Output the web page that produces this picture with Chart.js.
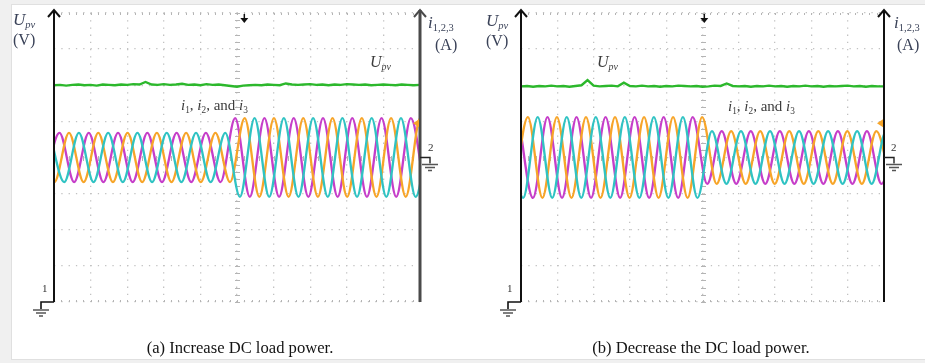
<!DOCTYPE html>
<html>
<head>
<meta charset="utf-8">
<script src="https://cdn.jsdelivr.net/npm/chart.js@4.4.1/dist/chart.umd.min.js"></script>
<style>
html,body{margin:0;padding:0;}
body{width:925px;height:363px;background:#f0f0f0;position:relative;overflow:hidden;font-family:"Liberation Serif","Times New Roman",serif;}
#frame{position:absolute;left:11px;top:4px;width:914px;height:356px;background:#fff;border:1px solid #e0e0e0;border-right:none;box-sizing:border-box;}
canvas{position:absolute;top:0;}
.t{position:absolute;line-height:1;white-space:nowrap;color:#3a4258;}
.t sub{font-size:0.62em;vertical-align:-0.28em;}
.in{color:#3c3c3c;}
.cap{position:absolute;top:340px;width:420px;text-align:center;font-size:16.6px;line-height:1;color:#141414;}
.num{position:absolute;font-size:11px;line-height:1;color:#333;}
</style>
</head>
<body>
<div id="frame"></div>
<canvas id="scopeA" width="465" height="363" style="left:0"></canvas>
<canvas id="scopeB" width="460" height="363" style="left:465px"></canvas>

<div class="t" style="left:13px;top:11px;font-size:17px"><i>U</i><sub><i>pv</i></sub></div>
<div class="t" style="left:13px;top:32px;font-size:16px">(V)</div>
<div class="t" style="left:428px;top:14px;font-size:17px"><i>i</i><sub>1,2,3</sub></div>
<div class="t" style="left:435px;top:37px;font-size:16px">(A)</div>
<div class="t in" style="left:370px;top:54px;font-size:16px"><i>U</i><sub><i>pv</i></sub></div>
<div class="t in" style="left:181px;top:98px;font-size:15px"><i>i</i><sub>1</sub>, <i>i</i><sub>2</sub>, and <i>i</i><sub>3</sub></div>
<div class="num" style="left:42px;top:283px">1</div>
<div class="num" style="left:428px;top:142px">2</div>
<div class="cap" style="left:30px">(a) Increase DC load power.</div>

<div class="t" style="left:486px;top:12px;font-size:17px"><i>U</i><sub><i>pv</i></sub></div>
<div class="t" style="left:486px;top:33px;font-size:16px">(V)</div>
<div class="t" style="left:894px;top:14px;font-size:17px"><i>i</i><sub>1,2,3</sub></div>
<div class="t" style="left:897px;top:37px;font-size:16px">(A)</div>
<div class="t in" style="left:597px;top:54px;font-size:16px"><i>U</i><sub><i>pv</i></sub></div>
<div class="t in" style="left:728px;top:99px;font-size:15px"><i>i</i><sub>1</sub>, <i>i</i><sub>2</sub>, and <i>i</i><sub>3</sub></div>
<div class="num" style="left:507px;top:283px">1</div>
<div class="num" style="left:891px;top:142px">2</div>
<div class="cap" style="left:491px">(b) Decrease the DC load power.</div>

<script>
const X_DIVS = [0, 10];
const Y_DIVS = [0, 8];
const I_ZERO = 4.0;   // channel 2 ground level

// DC link voltage trace (evenly sampled across the screen)
const upvA = [6.00,6.01,5.99,6.01,6.02,6.00,6.01,5.99,6.02,6.01,6.00,6.02,6.01,6.03,6.02,6.09,6.02,6.01,6.03,6.01,
  6.02,6.04,6.01,6.02,6.00,6.03,6.01,6.02,6.00,5.98,5.96,5.99,6.00,6.01,6.00,6.02,6.01,6.00,6.05,6.02,
  6.01,6.02,6.03,6.01,6.02,6.00,6.02,6.01,6.03,6.02,6.01,6.02,6.00,6.01,6.02,6.01,6.00,6.02,6.01,6.00,6.01];
const upvB = [5.97,5.98,5.96,5.98,5.97,5.99,5.97,5.98,5.96,5.98,6.00,6.14,5.99,5.97,5.98,5.99,5.97,6.07,5.98,5.97,
  5.99,5.97,5.98,5.96,5.98,5.97,5.99,5.98,5.97,5.98,5.96,5.97,5.99,5.98,6.05,5.98,5.97,5.98,5.96,5.98,
  5.97,5.99,5.97,5.98,5.96,5.98,5.97,5.99,5.97,5.98,5.96,5.98,5.97,5.98,5.99,5.97,5.98,5.96,5.98,5.97,5.97];

// phase currents: times of successive extremes (crest/trough alternating)
const magA = [-0.25,0.15,0.55,0.95,1.35,1.75,2.15,2.55,2.95,3.35,3.75,4.15,4.55,4.95,5.35,5.75,6.15,6.55,6.95,7.35,7.75,8.15,8.55,8.95,9.35,9.75,10.15];
const orgA = [-0.39,0.01,0.41,0.81,1.21,1.61,2.01,2.41,2.81,3.21,3.61,4.01,4.41,4.81,5.21,5.61,6.01,6.41,6.81,7.21,7.61,8.01,8.41,8.81,9.21,9.61,10.01,10.41];
const cyaA = [-0.12,0.28,0.68,1.08,1.48,1.88,2.28,2.68,3.08,3.48,3.88,4.28,4.68,5.08,5.48,5.88,6.28,6.68,7.08,7.48,7.88,8.28,8.68,9.08,9.48,9.88,10.28];
const ampA = [0.68, 1.09];   // before / after the load step
const stepA = 4.9;

const orgB = [-0.21,0.19,0.59,0.99,1.39,1.79,2.19,2.59,2.99,3.39,3.79,4.19,4.59,4.99,5.39,5.79,6.19,6.59,6.99,7.39,7.79,8.19,8.59,8.99,9.39,9.79,10.19];
const cyaB = [-0.34,0.06,0.46,0.86,1.26,1.66,2.06,2.46,2.86,3.26,3.66,4.06,4.46,4.86,5.26,5.66,6.06,6.46,6.86,7.26,7.66,8.06,8.46,8.86,9.26,9.66,10.06,10.46];
const magB = [-0.07,0.33,0.73,1.13,1.53,1.93,2.33,2.73,3.13,3.53,3.93,4.33,4.73,5.13,5.53,5.93,6.33,6.73,7.13,7.53,7.93,8.33,8.73,9.13,9.53,9.93,10.33];
const ampB = [1.12, 0.73];
const stepB = 5.05;

const GREEN = '#2cb82c', MAGENTA = '#c63ec9', ORANGE = '#f7a529', CYAN = '#30c3c3';

function tracePoints(vals){
  return vals.map((v,i)=>({x: X_DIVS[1]*i/(vals.length-1), y: v}));
}

// firstCrest: whether the first listed extreme is a crest
function phasePoints(times, firstCrest, amps, stepAt){
  return times.map((t,i)=>{
    const a = t < stepAt ? amps[0] : amps[1];
    const crest = (i%2===0) === firstCrest;
    return {x: t, y: I_ZERO + (crest ? a : -a)};
  });
}

function wave(color, pts){
  return {data: pts, borderColor: color, borderWidth: 2.3, cubicInterpolationMode: 'monotone', pointRadius: 0};
}

function ground(ctx, x, y){
  ctx.beginPath();
  ctx.moveTo(x-8, y); ctx.lineTo(x+8, y);
  ctx.moveTo(x-5, y+3); ctx.lineTo(x+5, y+3);
  ctx.moveTo(x-2, y+6); ctx.lineTo(x+2, y+6);
  ctx.stroke();
}

function upArrow(ctx, x, y){
  ctx.beginPath();
  ctx.moveTo(x-6, y+7); ctx.lineTo(x, y); ctx.lineTo(x+6, y+7);
  ctx.stroke();
}

// oscilloscope furniture: centre ticks, axes, ground marks, trigger markers
const scopeDeco = {
  id: 'scopeDeco',
  beforeDatasetsDraw(chart, args, o){
    const ctx = chart.ctx, xs = chart.scales.x, ys = chart.scales.y, ca = chart.chartArea;
    ctx.save();
    ctx.strokeStyle = '#b4b4b4';
    ctx.lineWidth = 1;
    const cx = Math.round(xs.getPixelForValue(5)) + 0.5;
    const cy = Math.round(ys.getPixelForValue(4)) + 0.5;
    ctx.beginPath();
    for(let v=0; v<=8.001; v+=0.2){
      const p = Math.round(ys.getPixelForValue(v)) + 0.5;
      ctx.moveTo(cx-2.5, p); ctx.lineTo(cx+2.5, p);
    }
    for(let v=0; v<=10.001; v+=0.2){
      const p = Math.round(xs.getPixelForValue(v)) + 0.5;
      ctx.moveTo(p, cy-2.5); ctx.lineTo(p, cy+2.5);
      ctx.moveTo(p, ca.top); ctx.lineTo(p, ca.top+2);
      ctx.moveTo(p, ca.bottom-2); ctx.lineTo(p, ca.bottom);
    }
    ctx.stroke();
    ctx.restore();
  },
  afterDatasetsDraw(chart, args, o){
    const ctx = chart.ctx, xs = chart.scales.x, ys = chart.scales.y, ca = chart.chartArea;
    ctx.save();
    const lx = ca.left, rx = ca.right, bot = ca.bottom;
    // left axis (channel 1)
    ctx.strokeStyle = '#111';
    ctx.lineWidth = 2;
    ctx.beginPath(); ctx.moveTo(lx, bot); ctx.lineTo(lx, ca.top-3); ctx.stroke();
    upArrow(ctx, lx, ca.top-3);
    ctx.lineWidth = 1.6;
    ctx.beginPath(); ctx.moveTo(lx, bot); ctx.lineTo(lx-13, bot); ctx.lineTo(lx-13, bot+7); ctx.stroke();
    ctx.strokeStyle = '#555';
    ground(ctx, lx-13, bot+8);
    // right axis (channel 2)
    ctx.strokeStyle = o.rightColor;
    ctx.lineWidth = o.rightWidth;
    ctx.beginPath(); ctx.moveTo(rx, bot); ctx.lineTo(rx, ca.top-3); ctx.stroke();
    ctx.lineWidth = 2;
    upArrow(ctx, rx, ca.top-3);
    const gy = ys.getPixelForValue(I_ZERO);
    ctx.strokeStyle = '#222';
    ctx.lineWidth = 1.4;
    ctx.beginPath(); ctx.moveTo(rx, gy); ctx.lineTo(rx+10, gy); ctx.lineTo(rx+10, gy+6); ctx.stroke();
    ctx.strokeStyle = '#555';
    ground(ctx, rx+10, gy+7);
    // trigger position marker
    const tx = xs.getPixelForValue(o.trigger);
    ctx.fillStyle = '#111';
    ctx.strokeStyle = '#111';
    ctx.lineWidth = 1.5;
    ctx.beginPath(); ctx.moveTo(tx, ca.top+1); ctx.lineTo(tx, ca.top+6); ctx.stroke();
    ctx.beginPath(); ctx.moveTo(tx-4, ca.top+5); ctx.lineTo(tx+4, ca.top+5); ctx.lineTo(tx, ca.top+10); ctx.closePath(); ctx.fill();
    // trigger level marker
    const ty = ys.getPixelForValue(o.level);
    ctx.fillStyle = ORANGE;
    ctx.beginPath(); ctx.moveTo(rx-7, ty); ctx.lineTo(rx-1, ty-4); ctx.lineTo(rx-1, ty+4); ctx.closePath(); ctx.fill();
    ctx.restore();
  }
};

function scopeOptions(padLeft, padRight, deco){
  const gridX = {color: '#c2c2c2', lineWidth: 1.3, drawTicks: false};
  return {
    responsive: false,
    animation: false,
    events: [],
    layout: {padding: {left: padLeft, right: padRight, top: 13, bottom: 61}},
    plugins: {legend: {display: false}, tooltip: {enabled: false}, scopeDeco: deco},
    scales: {
      x: {type: 'linear', min: X_DIVS[0], max: X_DIVS[1], ticks: {display: false, stepSize: 1}, grid: gridX,
          border: {display: false, dash: [1.3, 5.9]}},
      y: {type: 'linear', min: Y_DIVS[0], max: Y_DIVS[1], ticks: {display: false, stepSize: 1}, grid: gridX,
          border: {display: false, dash: [1.3, 6.0]}}
    }
  };
}

new Chart(document.getElementById('scopeA'), {
  type: 'line',
  data: {datasets: [
    wave(CYAN, phasePoints(cyaA, true, ampA, stepA)),
    wave(ORANGE, phasePoints(orgA, true, ampA, stepA)),
    wave(MAGENTA, phasePoints(magA, false, ampA, stepA)),
    {data: tracePoints(upvA), borderColor: GREEN, borderWidth: 2.4, pointRadius: 0}
  ]},
  options: scopeOptions(54, 45, {rightColor: '#4a4a4a', rightWidth: 3, trigger: 5.2, level: 4.95}),
  plugins: [scopeDeco]
});

new Chart(document.getElementById('scopeB'), {
  type: 'line',
  data: {datasets: [
    wave(CYAN, phasePoints(cyaB, true, ampB, stepB)),
    wave(ORANGE, phasePoints(orgB, false, ampB, stepB)),
    wave(MAGENTA, phasePoints(magB, true, ampB, stepB)),
    {data: tracePoints(upvB), borderColor: GREEN, borderWidth: 2.4, pointRadius: 0}
  ]},
  options: scopeOptions(56, 41, {rightColor: '#111', rightWidth: 2, trigger: 5.05, level: 4.95}),
  plugins: [scopeDeco]
});
</script>
</body>
</html>
